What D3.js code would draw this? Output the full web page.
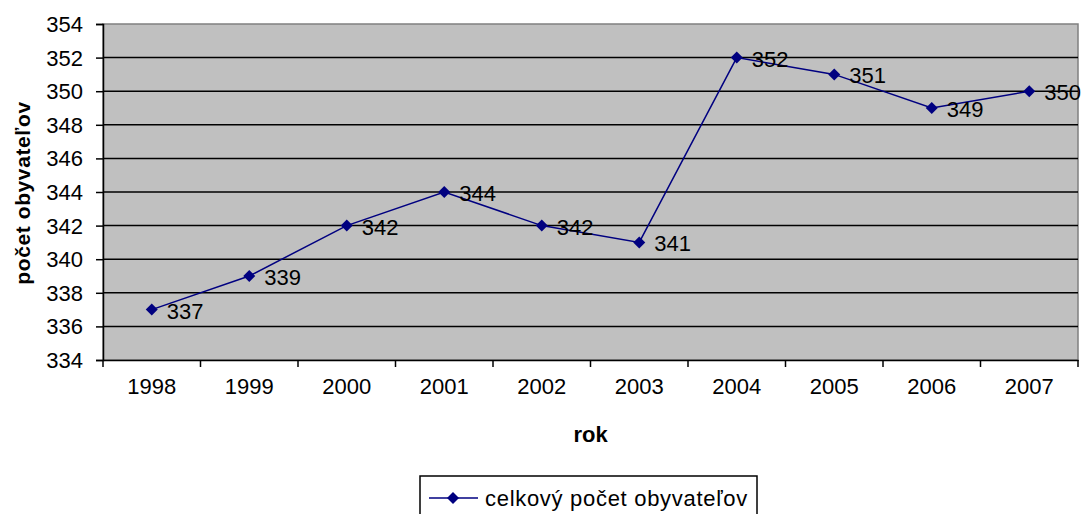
<!DOCTYPE html>
<html>
<head>
<meta charset="utf-8">
<script src="https://cdn.jsdelivr.net/npm/d3@7"></script>
<style>
  body { margin: 0; background: #fff; }
  text { font-family: "Liberation Sans", Arial, sans-serif; }
</style>
</head>
<body>
<svg id="chart" width="1085" height="514"></svg>
<script>
var years = ["1998", "1999", "2000", "2001", "2002", "2003", "2004", "2005", "2006", "2007"];
var values = [337, 339, 342, 344, 342, 341, 352, 351, 349, 350];
var yTicks = [334, 336, 338, 340, 342, 344, 346, 348, 350, 352, 354];
var seriesName = "celkový počet obyvateľov";

var svg = d3.select("#chart");
var plotL = 103, plotR = 1078, plotT = 24, plotB = 360;

var x = d3.scaleBand().domain(years).range([plotL, plotR]);
var y = d3.scaleLinear().domain([334, 354]).range([plotB, plotT]);

// plot background
svg.append("rect")
    .attr("x", plotL).attr("y", plotT)
    .attr("width", plotR - plotL).attr("height", plotB - plotT)
    .attr("fill", "#c0c0c0")
    .attr("stroke", "#808080")
    .attr("stroke-width", 1.5);

// gridlines
svg.append("g")
  .selectAll("line")
  .data(yTicks.slice(1, -1))
  .enter().append("line")
    .attr("x1", plotL).attr("x2", plotR)
    .attr("y1", function(d) { return y(d); })
    .attr("y2", function(d) { return y(d); })
    .attr("stroke", "#000")
    .attr("stroke-width", 1.5);

// y axis
var gy = svg.append("g")
    .attr("transform", "translate(" + plotL + ",0)")
    .call(d3.axisLeft(y).tickValues(yTicks).tickSize(7).tickPadding(13).tickFormat(d3.format("d")));
gy.select(".domain").attr("stroke", "#000").attr("stroke-width", 1.5);
gy.selectAll(".tick line").attr("stroke-width", 1.5);
gy.selectAll("text").attr("font-size", "22px").attr("fill", "#000").attr("dy", "0.34em");

// x axis
var gx = svg.append("g")
    .attr("transform", "translate(0," + plotB + ")")
    .call(d3.axisBottom(x).tickSize(0).tickPadding(18));
gx.select(".domain").attr("stroke", "#000").attr("stroke-width", 1.5);
gx.selectAll("text").attr("font-size", "22px").attr("fill", "#000");

// category boundary ticks
svg.append("g")
  .selectAll("line")
  .data(d3.range(years.length + 1))
  .enter().append("line")
    .attr("x1", function(i) { return plotL + i * x.step(); })
    .attr("x2", function(i) { return plotL + i * x.step(); })
    .attr("y1", plotB).attr("y2", plotB + 7)
    .attr("stroke", "#000")
    .attr("stroke-width", 1.5);

// axis titles
svg.append("text")
    .attr("x", (plotL + plotR) / 2).attr("y", 442)
    .attr("text-anchor", "middle")
    .attr("font-size", "22px").attr("font-weight", "bold")
    .text("rok");

svg.append("text")
    .attr("transform", "translate(30,193) rotate(-90)")
    .attr("text-anchor", "middle")
    .attr("font-size", "21px").attr("font-weight", "bold")
    .attr("letter-spacing", "0.6px")
    .text("počet obyvateľov");

// line
var cx = function(d, i) { return x(years[i]) + x.bandwidth() / 2; };
var line = d3.line()
    .x(function(d, i) { return cx(d, i); })
    .y(function(d) { return y(d); });

svg.append("path")
    .datum(values)
    .attr("d", line)
    .attr("fill", "none")
    .attr("stroke", "#000080")
    .attr("stroke-width", 1.5);

// square diamond marker (rotated square)
var diamond = d3.symbol().type(d3.symbolSquare).size(72);

svg.append("g")
  .selectAll("path")
  .data(values)
  .enter().append("path")
    .attr("d", diamond)
    .attr("transform", function(d, i) { return "translate(" + cx(d, i) + "," + y(d) + ") rotate(45)"; })
    .attr("fill", "#000080");

svg.append("g")
  .selectAll("text")
  .data(values)
  .enter().append("text")
    .attr("x", function(d, i) { return cx(d, i) + 15; })
    .attr("y", function(d) { return y(d) + 9; })
    .attr("font-size", "22px")
    .attr("fill", "#000")
    .text(function(d) { return d; });

// legend
var lg = svg.append("g");
lg.append("rect")
    .attr("x", 420).attr("y", 476)
    .attr("width", 337).attr("height", 42)
    .attr("fill", "#fff")
    .attr("stroke", "#000")
    .attr("stroke-width", 1.5);
lg.append("line")
    .attr("x1", 429).attr("x2", 478)
    .attr("y1", 498).attr("y2", 498)
    .attr("stroke", "#000080").attr("stroke-width", 1.5);
lg.append("path")
    .attr("d", diamond)
    .attr("transform", "translate(453,498) rotate(45)")
    .attr("fill", "#000080");
lg.append("text")
    .attr("x", 485).attr("y", 506)
    .attr("font-size", "22px")
    .attr("letter-spacing", "0.7px")
    .text(seriesName);
</script>
</body>
</html>
